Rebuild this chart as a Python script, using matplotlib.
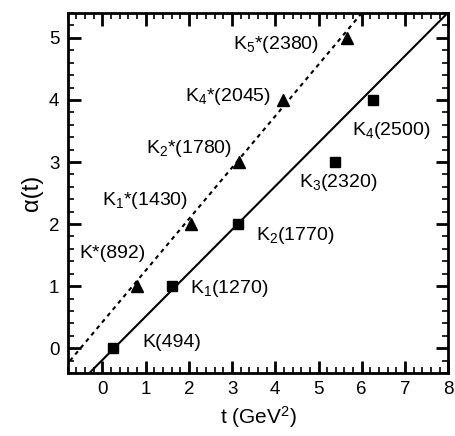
import matplotlib
matplotlib.use('Agg')
import matplotlib.pyplot as plt
from matplotlib.ticker import MultipleLocator
import numpy as np

plt.rcParams['font.family'] = ['Liberation Sans', 'DejaVu Sans']
plt.rcParams['mathtext.fontset'] = 'custom'
plt.rcParams['mathtext.rm'] = 'Liberation Sans'
plt.rcParams['mathtext.it'] = 'Liberation Sans:italic'

# pseudoscalar-like trajectory (squares)
t_sq = [0.244, 1.61, 3.13, 5.38, 6.25]
a_sq = [0, 1, 2, 3, 4]
lab_sq = [r'K(494)', r'$\mathrm{K_1}$(1270)', r'$\mathrm{K_2}$(1770)',
          r'$\mathrm{K_3}$(2320)', r'$\mathrm{K_4}$(2500)']
lab_sq_x = [0.93, 2.02, 3.55, 4.55, 5.78]
lab_sq_y = [0.09, 0.96, 1.82, 2.67, 3.5]

# vector trajectory (triangles)
t_tr = [0.80, 2.04, 3.17, 4.18, 5.66]
a_tr = [1, 2, 3, 4, 5]
lab_tr = [r'K*(892)', r'$\mathrm{K_1}$*(1430)', r'$\mathrm{K_2}$*(1780)',
          r'$\mathrm{K_4}$*(2045)', r'$\mathrm{K_5}$*(2380)']
lab_tr_x = [-0.53, 0.0, 1.02, 1.9, 3.02]
lab_tr_y = [1.53, 2.38, 3.21, 4.05, 4.9]

# fitted lines: alpha = a0 + a1*t
fit_solid = (-0.19, 0.70)
fit_dash = (0.42, 0.83)

fig = plt.figure(figsize=(4.55, 4.36), dpi=100)
ax = fig.add_axes([0.149, 0.1445, 0.836, 0.8255])

tt = np.linspace(-1, 9, 50)
ax.plot(tt, fit_solid[0] + fit_solid[1] * tt, color='black', lw=1.5)
ax.plot(tt, fit_dash[0] + fit_dash[1] * tt, color='black', lw=1.5,
        linestyle=(0, (2, 2)))

ax.plot(t_sq, a_sq, 's', color='black', ms=7, zorder=3)
ax.plot(t_tr, a_tr, '^', color='black', ms=8, zorder=3)

for x, y, s in zip(lab_sq_x, lab_sq_y, lab_sq):
    ax.text(x, y, s, fontsize=14, va='center', ha='left')
for x, y, s in zip(lab_tr_x, lab_tr_y, lab_tr):
    ax.text(x, y, s, fontsize=14, va='center', ha='left')

ax.set_xlim(-0.8, 8)
ax.set_ylim(-0.4, 5.4)
ax.xaxis.set_major_locator(MultipleLocator(1))
ax.xaxis.set_minor_locator(MultipleLocator(0.2))
ax.yaxis.set_major_locator(MultipleLocator(1))
ax.yaxis.set_minor_locator(MultipleLocator(0.2))
ax.tick_params(which='both', direction='in', top=True, right=True,
               labelsize=13.5, width=1.5)
ax.tick_params(which='major', length=9, width=2, pad=6)
ax.tick_params(which='minor', length=4.5, width=1.2)
for sp in ax.spines.values():
    sp.set_linewidth(2)

ax.set_xlabel(r't (GeV$^2$)', fontsize=15)
ax.set_ylabel('α(t)', fontsize=17)

fig.savefig('out.png', dpi=100)
